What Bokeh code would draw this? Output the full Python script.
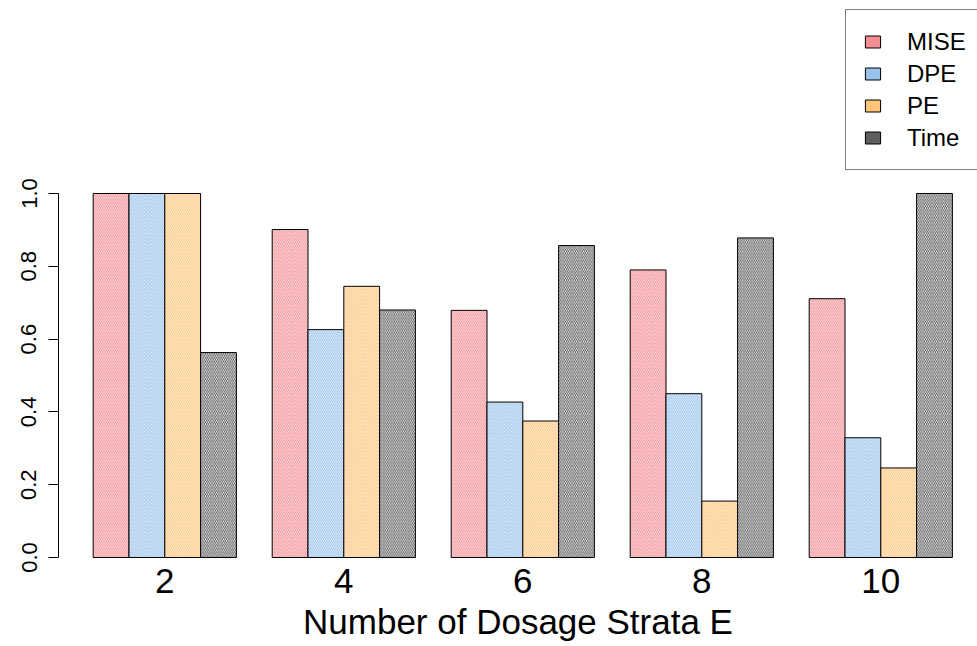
from bokeh.plotting import figure
from bokeh.models import (FixedTicker, PrintfTickFormatter, Legend, LegendItem,
                          ColumnDataSource, Range1d)
from bokeh.embed import file_html
from bokeh.resources import INLINE

# ---- data ----
strata = ["2", "4", "6", "8", "10"]
series = ["MISE", "DPE", "PE", "Time"]
mise = [1.0, 0.901, 0.679, 0.790, 0.711]
dpe = [1.0, 0.626, 0.427, 0.450, 0.329]
pe = [1.0, 0.745, 0.375, 0.155, 0.246]
time_ = [0.563, 0.680, 0.857, 0.878, 1.0]
y_ticks = [0.0, 0.2, 0.4, 0.6, 0.8, 1.0]

colors = ["#F28E93", "#98C2EA", "#FEC47A", "#5E5E5E"]
hatch_weights = [1.05, 1.05, 1.05, 1.0]
values = [mise, dpe, pe, time_]

FONT = "Liberation Sans"
n_s = len(series)
stride = n_s + 1          # R barplot beside=TRUE, space=c(0,1)

W, H = 977, 646
ML, MB = 58, 88
unit = 35.8
x0 = (ML - 56.9) / unit
x1 = x0 + (W - ML) / unit
ppu = 364.0
frame_h = H - MB
y0 = -1.0 / ppu
y1 = y0 + frame_h / ppu

p = figure(width=W, height=H, output_backend="svg", toolbar_location=None,
           x_range=Range1d(x0, x1), y_range=Range1d(y0, y1),
           min_border_left=ML, min_border_right=0, min_border_top=0,
           min_border_bottom=MB, background_fill_color="white",
           border_fill_color="white", outline_line_color=None)
p.xgrid.visible = False
p.ygrid.visible = False

group_centers = [1 + stride * g + n_s / 2 for g in range(len(strata))]

legend_items = []
for s, (name, vals, col, hw) in enumerate(zip(series, values, colors, hatch_weights)):
    xs = [1 + stride * g + s + 0.5 for g in range(len(strata))]
    src = ColumnDataSource(dict(x=xs, top=vals))
    p.vbar(x="x", top="top", bottom=0, width=1.0, source=src,
           fill_color="white", hatch_pattern="\\", hatch_color=col,
           hatch_scale=3.6, hatch_weight=hw,
           line_color="black", line_width=1)
    # solid swatch for the legend (no visible mark in the plot)
    dummy = p.vbar(x=[float("nan")], top=[float("nan")], width=1.0,
                   fill_color=col, line_color="black", line_width=1)
    legend_items.append(LegendItem(label=name, renderers=[dummy]))

legend = Legend(items=legend_items, location=(787, 388),
                glyph_width=19, glyph_height=15, label_standoff=25,
                label_text_font=FONT, label_text_font_size="24px",
                label_text_color="black",
                label_height=29, spacing=3, padding=17, margin=0,
                border_line_color="black", border_line_width=1,
                background_fill_color="white", background_fill_alpha=1.0)
p.add_layout(legend, "center")

# y axis
ya = p.yaxis[0]
ya.ticker = FixedTicker(ticks=y_ticks)
ya.formatter = PrintfTickFormatter(format="%.1f")
ya.bounds = (0, 1)
ya.major_tick_out = 10
ya.major_tick_in = 0
ya.minor_tick_out = 0
ya.minor_tick_in = 0
ya.major_label_orientation = "vertical"
ya.major_label_standoff = 12
ya.major_label_text_font = FONT
ya.major_label_text_font_size = "22px"
ya.major_label_text_color = "black"
ya.axis_line_color = "black"
ya.major_tick_line_color = "black"

# x axis: labels only
xa = p.xaxis[0]
xa.ticker = FixedTicker(ticks=group_centers)
xa.major_label_overrides = {c: lab for c, lab in zip(group_centers, strata)}
xa.axis_line_color = None
xa.major_tick_line_color = None
xa.minor_tick_line_color = None
xa.major_tick_out = 0
xa.major_tick_in = 0
xa.major_label_standoff = 10
xa.major_label_text_font = FONT
xa.major_label_text_font_size = "35px"
xa.major_label_text_color = "black"
xa.axis_label = "Number of Dosage Strata E"
xa.axis_label_standoff = 6
xa.axis_label_text_font = FONT
xa.axis_label_text_font_size = "35px"
xa.axis_label_text_font_style = "normal"
xa.axis_label_text_color = "black"

open("out.html", "w").write(file_html(p, INLINE))
